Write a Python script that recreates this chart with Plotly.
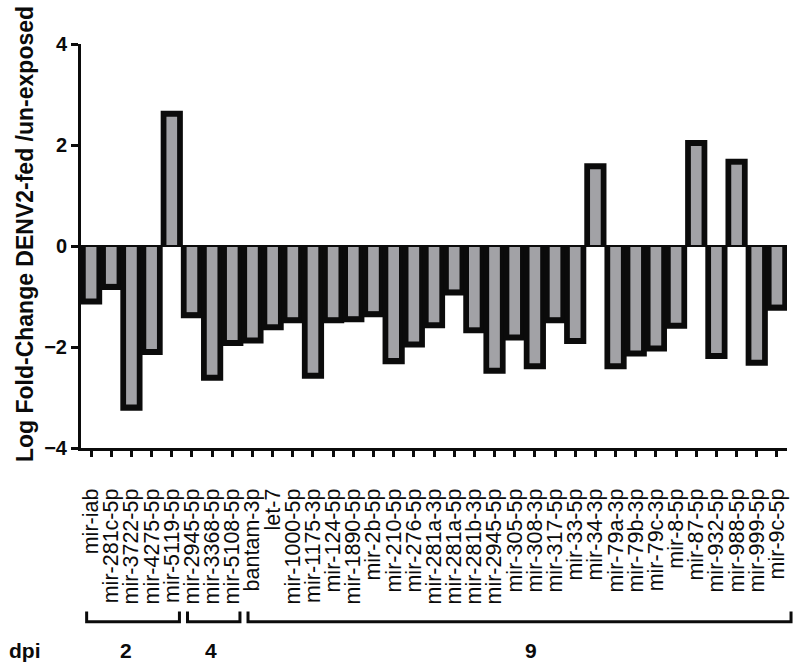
import plotly.graph_objects as go

MIRNAS = [
    "mir-iab", "mir-281c-5p", "mir-3722-5p", "mir-4275-5p", "mir-5119-5p",
    "mir-2945-5p", "mir-3368-5p", "mir-5108-5p",
    "bantam-3p", "let-7", "mir-1000-5p", "mir-1175-3p", "mir-124-5p",
    "mir-1890-5p", "mir-2b-5p", "mir-210-5p", "mir-276-5p", "mir-281a-3p",
    "mir-281a-5p", "mir-281b-3p", "mir-2945-5p", "mir-305-5p", "mir-308-3p",
    "mir-317-5p", "mir-33-5p", "mir-34-3p", "mir-79a-3p", "mir-79b-3p",
    "mir-79c-3p", "mir-8-5p", "mir-87-5p", "mir-932-5p", "mir-988-5p",
    "mir-999-5p", "mir-9c-5p",
]
LOG_FC = [
    -1.16, -0.87, -3.26, -2.16, 2.68,
    -1.43, -2.67, -1.98,
    -1.93, -1.67, -1.53, -2.63, -1.53,
    -1.51, -1.41, -2.34, -2.01, -1.63,
    -0.98, -1.73, -2.53, -1.87, -2.44,
    -1.53, -1.94, 1.64, -2.44, -2.19,
    -2.09, -1.64, 2.10, -2.24, 1.73,
    -2.37, -1.28,
]
DPI_LABELS = ["2", "4", "9"]
DPI_SIZES = [5, 3, 27]
Y_TICKS = [-4, -2, 0, 2, 4]

_BLACK = "#0b0b0b"
_GREY = "#a2a2a6"
_FONT = "Liberation Sans, Arial, sans-serif"
CAP = 0.12  # thickness of the black end cap, in data units
LABEL_SHIFT = [-0.25, -0.05, 0.8]  # nudges for the dpi numbers, in bar slots

n = len(MIRNAS)
xs = list(range(n))
inner = [v - CAP if v > 0 else v + CAP for v in LOG_FC]

fig = go.Figure()
fig.add_trace(go.Bar(x=xs, y=LOG_FC, width=1.1, marker_color=_BLACK,
                     marker_line_width=0, hoverinfo="skip"))
fig.add_trace(go.Bar(x=xs, y=inner, width=0.53, marker_color=_GREY,
                     marker_line_width=0, hoverinfo="skip"))

# zero line above the bars
fig.add_shape(type="line", xref="paper", yref="y", x0=0, x1=1, y0=0, y1=0,
              line=dict(color=_BLACK, width=2), layer="above")

# dpi brackets and labels
y_top, y_bot, y_lab = -0.405, -0.43, -0.50
start = 0
for lab, size, shift in zip(DPI_LABELS, DPI_SIZES, LABEL_SHIFT):
    a = (start + 0.28) / n
    b = (start + size - 0.12) / n
    if start + size == n:
        b = (n + 0.2) / n
    fig.add_shape(type="path", xref="paper", yref="paper",
                  path=f"M {a},{y_top} L {a},{y_bot} L {b},{y_bot} L {b},{y_top}",
                  line=dict(color=_BLACK, width=3))
    fig.add_annotation(x=(start + size / 2 + shift) / n, y=y_lab,
                       xref="paper", yref="paper", text=lab, showarrow=False,
                       xanchor="center", yanchor="middle",
                       font=dict(family=_FONT, size=21, color=_BLACK, weight="bold"))
    start += size

fig.add_annotation(x=-0.105, y=y_lab, xref="paper", yref="paper", text="dpi",
                   showarrow=False, xanchor="left", yanchor="middle",
                   font=dict(family=_FONT, size=21, color=_BLACK, weight="bold"))

fig.add_annotation(x=-0.079, y=0.53, xref="paper", yref="paper",
                   text="Log Fold-Change DENV2-fed /un-exposed", textangle=-90,
                   showarrow=False, xanchor="center", yanchor="middle",
                   font=dict(family=_FONT, size=23, color=_BLACK, weight="bold"))

fig.update_layout(
    width=800, height=669, barmode="overlay", showlegend=False,
    margin=dict(l=81, r=13, t=44, b=221),
    paper_bgcolor="white", plot_bgcolor="white",
    xaxis=dict(range=[-0.5, n - 0.5], tickvals=xs, ticktext=MIRNAS,
               tickangle=-90, ticks="outside", ticklen=6, tickwidth=3,
               tickcolor=_BLACK, showline=True, linewidth=3, linecolor=_BLACK,
               showgrid=False, zeroline=False, ticklabelstandoff=23,
               tickfont=dict(family=_FONT, size=21.5, color=_BLACK)),
    yaxis=dict(range=[-4, 4], tickvals=Y_TICKS, ticks="outside", ticklen=7,
               tickwidth=3, tickcolor=_BLACK, showline=True, linewidth=3,
               linecolor=_BLACK, showgrid=False, zeroline=False,
               tickfont=dict(family=_FONT, size=20, color=_BLACK, weight="bold")),
)

fig.write_html("out.html", config={"displayModeBar": False},
               post_script="document.body.style.margin='0';")
